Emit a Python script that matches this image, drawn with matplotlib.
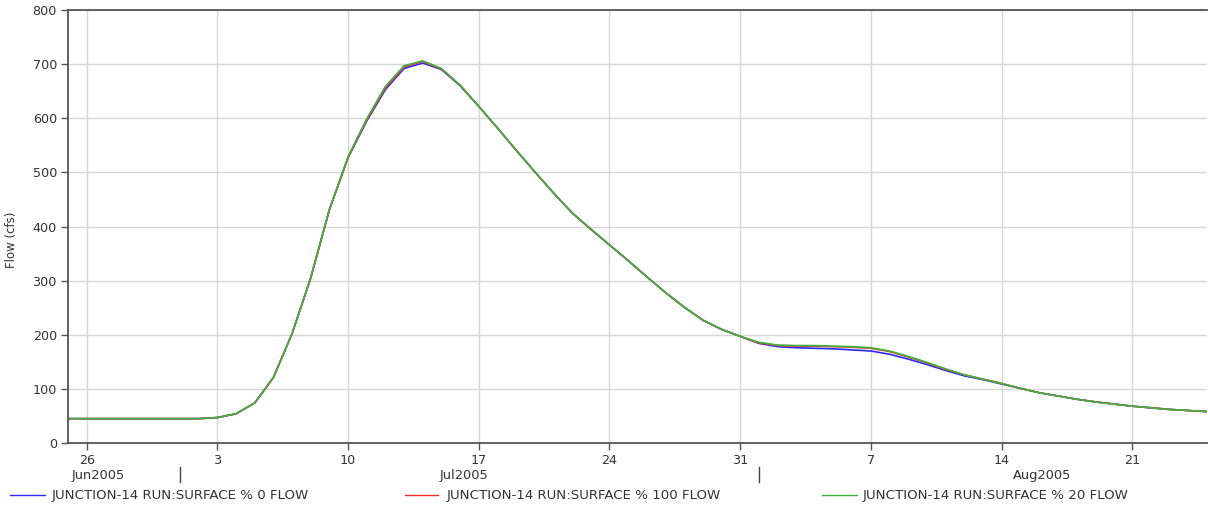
import matplotlib
matplotlib.use("Agg")
import matplotlib.pyplot as plt
import matplotlib.dates as mdates
from matplotlib.lines import Line2D
from matplotlib.ticker import FuncFormatter
import pandas as pd

plt.rcParams['font.family'] = ['DejaVu Sans']

dates = pd.date_range('2005-06-25', '2005-08-25', freq='D')

flow_0 = [45, 45, 45, 45, 45, 45,
          45, 45, 47, 54, 74, 121, 202, 305, 431, 527, 595, 653, 692, 702,
          690, 660, 622, 582, 541, 501, 462, 425, 395, 366, 337, 307, 278,
          251, 227, 210, 197,
          184, 178, 176, 175, 174, 172, 170, 164, 155, 145, 134, 124, 117,
          109, 101, 93, 87, 81, 76, 72, 68, 65, 62, 60, 58]
flow_100 = [45, 45, 45, 45, 45, 45,
            45, 45, 47, 54, 74, 121, 202, 305, 431, 528, 597, 656, 695, 705,
            691, 661, 622, 582, 541, 501, 462, 425, 395, 366, 337, 307, 278,
            251, 227, 210, 197,
            185, 180, 179, 179, 178, 177, 175, 169, 159, 148, 136, 126, 118,
            110, 101, 93, 87, 81, 76, 72, 68, 65, 62, 60, 58]
flow_20 = [45, 45, 45, 45, 45, 45,
           45, 45, 47, 54, 74, 121, 202, 306, 432, 529, 599, 659, 697, 706,
           692, 661, 622, 582, 541, 501, 462, 425, 395, 366, 337, 307, 278,
           251, 227, 210, 197,
           186, 181, 180, 180, 179, 178, 176, 170, 160, 149, 137, 126, 118,
           110, 101, 93, 87, 81, 76, 72, 68, 65, 62, 60, 58]

series_labels = ['JUNCTION-14 RUN:SURFACE % 0 FLOW',
                 'JUNCTION-14 RUN:SURFACE % 100 FLOW',
                 'JUNCTION-14 RUN:SURFACE % 20 FLOW']
series_colors = ['#2a2aff', '#ff2a2a', '#3cb43c']
month_labels = ['Jun2005', 'Jul2005', 'Aug2005']
month_label_dates = ['2005-06-26 15:00', '2005-07-16 05:00', '2005-08-16 04:00']
month_sep_dates = ['2005-07-01', '2005-08-01']

W, H = 1208, 505
fig = plt.figure(figsize=(W / 100, H / 100), dpi=100)
ax = fig.add_axes([68 / W, (H - 443) / H, (1207 - 68) / W, (443 - 10) / H])

for vals, lab, col in zip([flow_0, flow_100, flow_20], series_labels, series_colors):
    ax.plot(dates, vals, color=col, lw=1.2, label=lab)

ax.set_xlim(pd.Timestamp('2005-06-25'), pd.Timestamp('2005-08-25'))
ax.set_ylim(0, 800)
ax.set_yticks(range(0, 801, 100))
ax.xaxis.set_major_locator(mdates.WeekdayLocator(byweekday=mdates.SU))
ax.xaxis.set_major_formatter(FuncFormatter(lambda v, p: str(mdates.num2date(v).day)))

ax.grid(True, color='#d6d6d6', lw=1.0)
ax.set_axisbelow(True)
for s in ['left', 'bottom', 'top']:
    ax.spines[s].set_color('#555555')
    ax.spines[s].set_linewidth(1.3)
ax.spines['right'].set_visible(False)
ax.tick_params(axis='both', direction='out', length=5, width=1, color='#555555',
               labelsize=9.2, labelcolor='#333333', pad=3)
ax.tick_params(axis='x', pad=3)

ax.set_ylabel('Flow (cfs)', fontsize=8.5, color='#333333')
ax.yaxis.set_label_coords(-50 / (1207 - 68), 0.47)

trans = matplotlib.transforms.blended_transform_factory(ax.transData, fig.transFigure)
for lab, d in zip(month_labels, month_label_dates):
    ax.text(mdates.date2num(pd.Timestamp(d)), (H - 475) / H, lab, transform=trans,
            ha='center', va='center', fontsize=9.4, color='#333333')
for d in month_sep_dates:
    x = mdates.date2num(pd.Timestamp(d))
    ax.add_line(Line2D([x, x], [(H - 467) / H, (H - 482) / H], transform=trans,
                       color='#444444', lw=1, clip_on=False))

leg_x = [(10, 45, 52), (405, 438, 447), (822, 857, 863)]
ly = (H - 495) / H
for (x0, x1, xt), lab, col in zip(leg_x, series_labels, series_colors):
    fig.add_artist(Line2D([x0 / W, x1 / W], [ly, ly], transform=fig.transFigure,
                          color=col, lw=1.0))
    fig.text(xt / W, ly, lab, ha='left', va='center', fontsize=9.6, color='#333333')

fig.savefig('out.png', dpi=100)
